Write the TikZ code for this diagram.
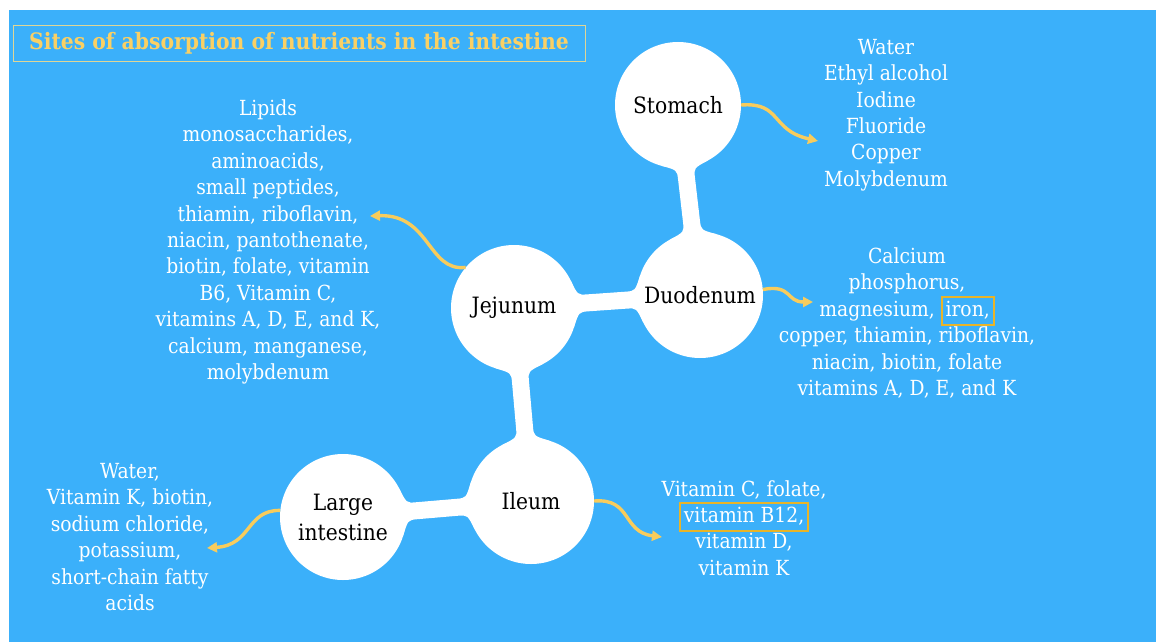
\documentclass[tikz,border=0pt]{standalone}
\usepackage{fontspec}
\setmainfont{DejaVu Serif Condensed}
\usetikzlibrary{arrows.meta, calc, backgrounds}
\definecolor{SkyBlue}{RGB}{59,176,250}
\definecolor{ArrowGold}{RGB}{248,204,92}
\definecolor{TitleGold}{RGB}{250,208,100}
\definecolor{FrameGold}{RGB}{222,214,150}
\definecolor{MarkGold}{RGB}{232,180,40}
\newcommand{\marked}[1]{{\setlength{\fboxrule}{1.8pt}\setlength{\fboxsep}{3pt}%
  \fcolorbox{MarkGold}{SkyBlue}{\vphantom{Ay}#1}}}
% white neck with rounded flares between two organ circles
\newcommand{\neckpath}[2]{%
  ($(#1.center)!63pt!22:(#2.center)$)
  .. controls ($(#1.center)!64.5pt!(#2.center)!8.5pt!90:(#2.center)$)
  .. ($(#1.center)!74pt!(#2.center)!8.5pt!90:(#2.center)$)
  -- ($(#2.center)!74pt!(#1.center)!8.5pt!-90:(#1.center)$)
  .. controls ($(#2.center)!64.5pt!(#1.center)!8.5pt!-90:(#1.center)$)
  .. ($(#2.center)!63pt!-22:(#1.center)$)
  -- ($(#2.center)!63pt!22:(#1.center)$)
  .. controls ($(#2.center)!64.5pt!(#1.center)!8.5pt!90:(#1.center)$)
  .. ($(#2.center)!74pt!(#1.center)!8.5pt!90:(#1.center)$)
  -- ($(#1.center)!74pt!(#2.center)!8.5pt!-90:(#2.center)$)
  .. controls ($(#1.center)!64.5pt!(#2.center)!8.5pt!-90:(#2.center)$)
  .. ($(#1.center)!63pt!-22:(#2.center)$) -- cycle}

\begin{document}
\begin{tikzpicture}[x=1pt, y=-1pt,
    organ/.style={circle, fill=white, minimum size=126pt, inner sep=0pt,
                  font=\fontsize{22.5}{30}\selectfont, align=center},
    list/.style={text=white, font=\fontsize{20.8}{26.4}\selectfont,
                 align=center, inner sep=0pt},
    neck/.style={fill=white},
    flow/.style={-{Triangle[length=10pt, width=10pt]}, ArrowGold, line width=3.4pt}
  ]
  \useasboundingbox (0,0) rectangle (1156,642);

  % Title
  \node[draw=FrameGold, line width=0.8pt, text=TitleGold,
        font=\bfseries\fontsize{22.6}{26}\selectfont,
        minimum width=572pt, minimum height=36pt] (title) at (299,43)
        {Sites of absorption of nutrients in the intestine};

  % Organs
  \node[organ] (stomach)  at (678,105) {Stomach};
  \node[organ] (duodenum) at (700,295) {Duodenum};
  \node[organ] (jejunum)  at (514,308) {Jejunum};
  \node[organ] (ileum)    at (531,501) {Ileum};
  \node[organ] (large)    at (343,517) {Large\\intestine};

  % Necks between the organs
  \begin{scope}[on background layer]
    \fill[SkyBlue] (9,10) rectangle (1156,642);
    \fill[neck] \neckpath{stomach}{duodenum};
    \fill[neck] \neckpath{jejunum}{duodenum};
    \fill[neck] \neckpath{jejunum}{ileum};
    \fill[neck] \neckpath{large}{ileum};
  \end{scope}

  % Absorbed nutrients
  \node[list] (stomachlist) at (886,115) {Water\\Ethyl alcohol\\Iodine\\
    Fluoride\\Copper\\Molybdenum};
  \node[list] (jejunumlist) at (268,242) {Lipids\\monosaccharides,\\
    aminoacids,\\small peptides,\\thiamin, riboflavin,\\
    niacin, pantothenate,\\biotin, folate, vitamin\\B6, Vitamin C,\\
    vitamins A, D, E, and K,\\calcium, manganese,\\molybdenum};
  \node[list] (duodenumlist) at (907,323) {Calcium\\phosphorus,\\
    magnesium, \marked{iron,}\\copper, thiamin, riboflavin,\\
    niacin, biotin, folate\\vitamins A, D, E, and K};
  \node[list] (ileumlist) at (744,528) {Vitamin C, folate,\\
    \marked{vitamin B12,}\\vitamin D,\\vitamin K};
  \node[list] (largelist) at (130,537) {Water,\\Vitamin K, biotin,\\
    sodium chloride,\\potassium,\\short-chain fatty\\acids};

  % Arrows
  \coordinate (tipS) at (818,141);
  \coordinate (tipD) at (813,302);
  \coordinate (tipJ) at (370,216);
  \coordinate (tipI) at (662,537);
  \coordinate (tipL) at (207,548);
  \draw[flow] (stomach.east) .. controls (782,102) and (770,130) .. (tipS);
  \draw[flow] (duodenum.5) .. controls (792,284) and (786,302) .. (tipD);
  \draw[flow] (jejunum.140) .. controls (428,272) and (430,214) .. (tipJ);
  \draw[flow] (ileum.east) .. controls (632,498) and (622,532) .. (tipI);
  \draw[flow] (large.174) .. controls (246,510) and (252,545) .. (tipL);
\end{tikzpicture}
\end{document}
